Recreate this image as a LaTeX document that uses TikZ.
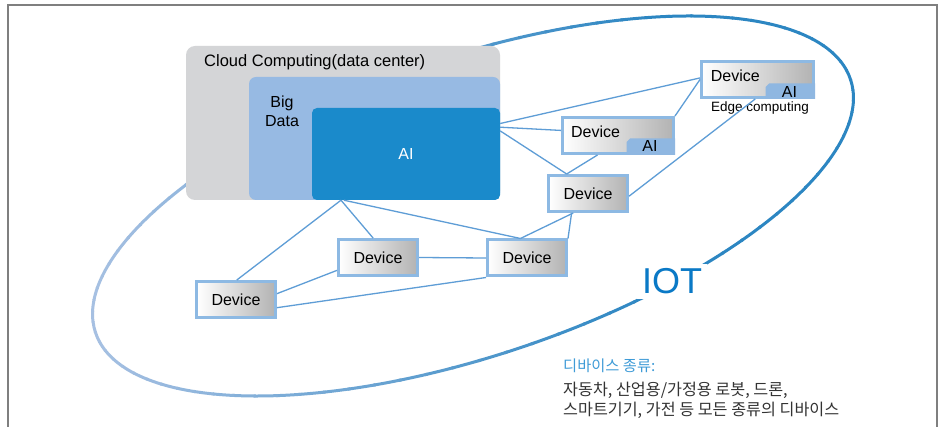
\documentclass[tikz,border=0pt]{standalone}
\usepackage{fontspec}
\setmainfont{Liberation Sans}
\newfontfamily\krfont{Noto Sans CJK KR}
\usetikzlibrary{calc}

\definecolor{framegray}{HTML}{7F7F7F}
\definecolor{cloudgray}{HTML}{D4D5D7}
\definecolor{bigblue}{HTML}{97BAE3}
\definecolor{aiblue}{HTML}{1A8ACB}
\definecolor{devborder}{HTML}{8DB9E3}
\definecolor{tabblue}{HTML}{8FB7E1}
\definecolor{linkblue}{HTML}{5E9DD6}
\definecolor{ringdark}{HTML}{2C86C2}
\definecolor{ringlight}{HTML}{A6C0E2}
\definecolor{iotblue}{HTML}{0A79C6}
\definecolor{kortitle}{HTML}{3E9BD7}
\definecolor{kortext}{HTML}{333333}

\tikzset{
  txt/.style={font=\fontsize{16}{19}\selectfont, inner sep=0pt},
  smalltxt/.style={font=\fontsize{13.5}{16}\selectfont, inner sep=0pt},
  devbox/.style={draw=devborder, line width=3pt, inner sep=0pt,
    minimum width=79pt, minimum height=36pt,
    left color=white, right color=black!30,
    font=\fontsize{16}{19}\selectfont},
  aidevbox/.style={devbox, minimum width=111pt},
  link/.style={draw=linkblue, line width=1.3pt},
  tabfill/.style={fill=tabblue},
  panel/.style={inner sep=0pt},
}

\begin{document}
\begin{tikzpicture}[x=1pt,y=-1pt]
\useasboundingbox (0,0) rectangle (940,427);
\fill[white] (0,0) rectangle (940,427);
\draw[framegray, line width=2.5pt] (8,5) rectangle (937,450);

% IOT ring, darker towards the right
\begin{scope}[shift={(473,206)}, rotate=18.55]
  \foreach \t in {0,4,...,356}{
    \pgfmathtruncatemacro\p{max(0,min(100,(377.6*cos(\t+2)+47.5*sin(\t+2)+380)/5.6))}
    \draw[line width=3pt, ringdark!\p!ringlight]
      (\t:398.2 and 149.4) arc[start angle=\t, end angle=\t+4.4, x radius=398.2, y radius=149.4];
  }
\end{scope}
\node[font=\fontsize{36}{40}\selectfont, text=iotblue, fill=white,
      inner xsep=5pt, inner ysep=5pt] (iot) at (672,281.5) {IOT};

% data center
\node[panel, fill=cloudgray, rounded corners=9pt, minimum width=314pt, minimum height=154pt] (cloud) at (343,123) {};
\node[panel, fill=bigblue, rounded corners=7pt, minimum width=251pt, minimum height=123pt] (bigdata) at (374.5,138.5) {};
\node[panel, fill=aiblue, rounded corners=5pt, minimum width=188pt, minimum height=92pt] (ai) at (406,154) {};
\node[txt, font=\fontsize{16.5}{19}\selectfont, anchor=west] (cloudlbl) at (204,62) {Cloud Computing(data center)};
\node[txt, align=center] (bigdatalbl) at (282,111.5) {Big\\Data};
\node[txt, text=white] (ailbl) at (406,154) {AI};

% devices
\node[devbox] (d6) at (236,299.5) {Device};
\node[devbox] (d5) at (378,257.5) {Device};
\node[devbox] (d4) at (527,258) {Device};
\node[devbox] (d3) at (588,193.5) {Device};
\node[aidevbox] (a1) at (618,135.5) {};
\node[aidevbox, minimum width=112pt] (e2) at (757.5,79.5) {};

% AI tabs of the edge devices
\fill[tabfill] ($(a1.south east)+(-48.5,0)$) -- ++(0,-13) -- ++(3.5,-3.5) -- ($(a1.south east)+(0,-16.5)$) -- (a1.south east) -- cycle;
\fill[tabfill] ($(e2.south east)+(-49.5,0)$) -- ++(0,-12) -- ++(3.5,-3.5) -- ($(e2.south east)+(0,-15.5)$) -- (e2.south east) -- cycle;
\node[txt] (a1dev) at (595.5,131.5) {Device};
\node[txt] (a1ai) at (650,146) {AI};
\node[txt] (e2dev) at (735.3,76) {Device};
\node[txt] (e2ai) at (789.5,91.5) {AI};
\node[smalltxt, anchor=base] (edgelbl) at (760,112) {Edge computing};

% links
\draw[link] ($(ai.north east)!0.17!(ai.south east)$) -- ($(e2.north west)!0.46!(e2.south west)$);
\draw[link] ($(ai.north east)!0.21!(ai.south east)$) -- ($(a1.north west)!0.37!(a1.south west)$);
\draw[link] ($(ai.north east)!0.25!(ai.south east)$) -- ($(d3.north west)!0.24!(d3.north east)$);
\draw[link] ($(a1.south west)!0.32!(a1.south east)$) -- ($(d3.north west)!0.24!(d3.north east)$);
\draw[link] (a1.north east) -- ($(e2.north west)!0.5!(e2.south west)$);
\draw[link] ($(d3.north east)!0.57!(d3.south east)$) -- ($(e2.south west)!0.48!(e2.south east)$);
\draw[link] ($(ai.south west)!0.155!(ai.south east)$) -- ($(d6.north west)!0.51!(d6.north east)$);
\draw[link] ($(ai.south west)!0.155!(ai.south east)$) -- ($(d5.north west)!0.44!(d5.north east)$);
\draw[link] ($(ai.south west)!0.17!(ai.south east)$) -- ($(d4.north west)!0.42!(d4.north east)$);
\draw[link] ($(d3.south west)!0.32!(d3.south east)$) -- ($(d4.north west)!0.42!(d4.north east)$);
\draw[link] ($(d3.south west)!0.30!(d3.south east)$) -- (d4.north east);
\draw[link] (d5.east) -- (d4.west);
\draw[link] ($(d6.north east)!0.35!(d6.south east)$) -- ($(d5.north west)!0.83!(d5.south west)$);
\draw[link] ($(d6.north east)!0.71!(d6.south east)$) -- (d4.south west);

% device kinds
\node[anchor=west, inner sep=0pt, font=\krfont\fontsize{15.3}{18}\selectfont, text=kortitle] (kindtitle) at (563,366) {디바이스 종류:};
\node[anchor=west, inner sep=0pt, font=\krfont\fontsize{16.2}{19}\selectfont, text=kortext] (kindline1) at (563,390) {자동차, 산업용/가정용 로봇, 드론,};
\node[anchor=west, inner sep=0pt, font=\krfont\fontsize{16.2}{19}\selectfont, text=kortext] (kindline2) at (563,410) {스마트기기, 가전 등 모든 종류의 디바이스};
\end{tikzpicture}
\end{document}
